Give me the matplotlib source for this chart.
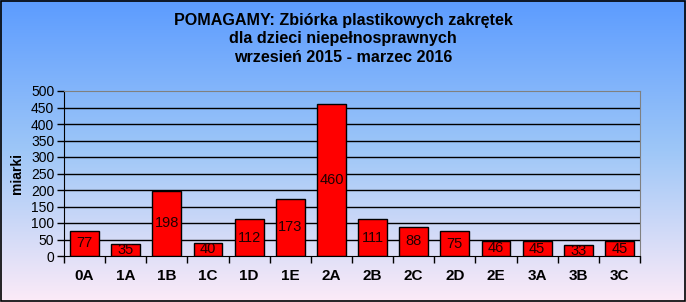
import numpy as np
import matplotlib
matplotlib.use("Agg")
import matplotlib.pyplot as plt

categories = ["0A", "1A", "1B", "1C", "1D", "1E", "2A", "2B", "2C", "2D", "2E", "3A", "3B", "3C"]
values = [77, 35, 198, 40, 112, 173, 460, 111, 88, 75, 46, 45, 33, 45]
yticks = list(range(0, 501, 50))

plt.rcParams['font.family'] = ['Liberation Sans', 'DejaVu Sans']

W, H = 686, 302
fig = plt.figure(figsize=(W / 100, H / 100), dpi=100)

# background gradient
bg = fig.add_axes([0, 0, 1, 1], zorder=-10)
top = np.array([0.36, 0.61, 1.0])
mid = np.array([0.62, 0.78, 0.97])
bot = np.array([0.99, 0.92, 0.97])
t = np.linspace(0, 1, 300)[:, None]
grad = np.where(t < 0.5, top + (mid - top) * (t / 0.5), mid + (bot - mid) * ((t - 0.5) / 0.5))
img = grad[:, None, :] * np.ones((1, 2, 1))
bg.imshow(img, aspect='auto', extent=[0, 1, 0, 1], origin='upper')
bg.set_xlim(0, 1); bg.set_ylim(0, 1)
bg.axis('off')
bg.add_patch(plt.Rectangle((0.0015, 0.002), 0.997, 0.995, fill=False, edgecolor='black', lw=1.2,
                           transform=bg.transAxes))

# main axes: left 64, right 640, top 91, bottom 256
ax = fig.add_axes([64 / W, 1 - 256 / H, (640 - 64) / W, (256 - 91) / H])
ax.set_facecolor('none')
x = np.arange(len(categories))
ax.bar(x, values, width=0.7, color='#FF0000', edgecolor='black', linewidth=1, zorder=3)
for xi, v in zip(x, values):
    ax.text(xi, v / 2, str(v), ha='center', va='center', fontsize=10.5, color='#200000', zorder=4)

ax.set_xlim(-0.5, len(categories) - 0.5)
ax.set_ylim(0, 500)
ax.set_yticks(yticks)
ax.set_yticklabels([str(v) for v in yticks], fontsize=10)
for yv in yticks[1:-1]:
    ax.axhline(yv, color='black', lw=1, zorder=1)
ax.set_xticks(x)
ax.set_xticklabels(categories, fontsize=11, fontweight='bold')
ax.set_xticks(np.arange(-0.5, len(categories), 1), minor=True)
ax.tick_params(axis='x', which='major', length=0, pad=9)
ax.tick_params(axis='x', which='minor', length=5, width=1, direction='out')
ax.tick_params(axis='y', length=5, width=1, direction='out', pad=2)
ax.spines['left'].set_color('black')
ax.spines['bottom'].set_color('black')
ax.spines['top'].set_color('#808080')
ax.spines['right'].set_color('#808080')
ax.set_ylabel('miarki', fontsize=10, fontweight='bold', labelpad=5)

fig.text(0.5, 1 - 20 / H, "POMAGAMY: Zbiórka plastikowych zakrętek", ha='center', va='center',
         fontsize=11.6, fontweight='bold')
fig.text(0.5, 1 - 38 / H, "dla dzieci niepełnosprawnych", ha='center', va='center',
         fontsize=11.6, fontweight='bold')
fig.text(0.5, 1 - 57 / H, "wrzesień 2015 - marzec 2016", ha='center', va='center',
         fontsize=11.6, fontweight='bold')

fig.savefig("out.png", dpi=100)
